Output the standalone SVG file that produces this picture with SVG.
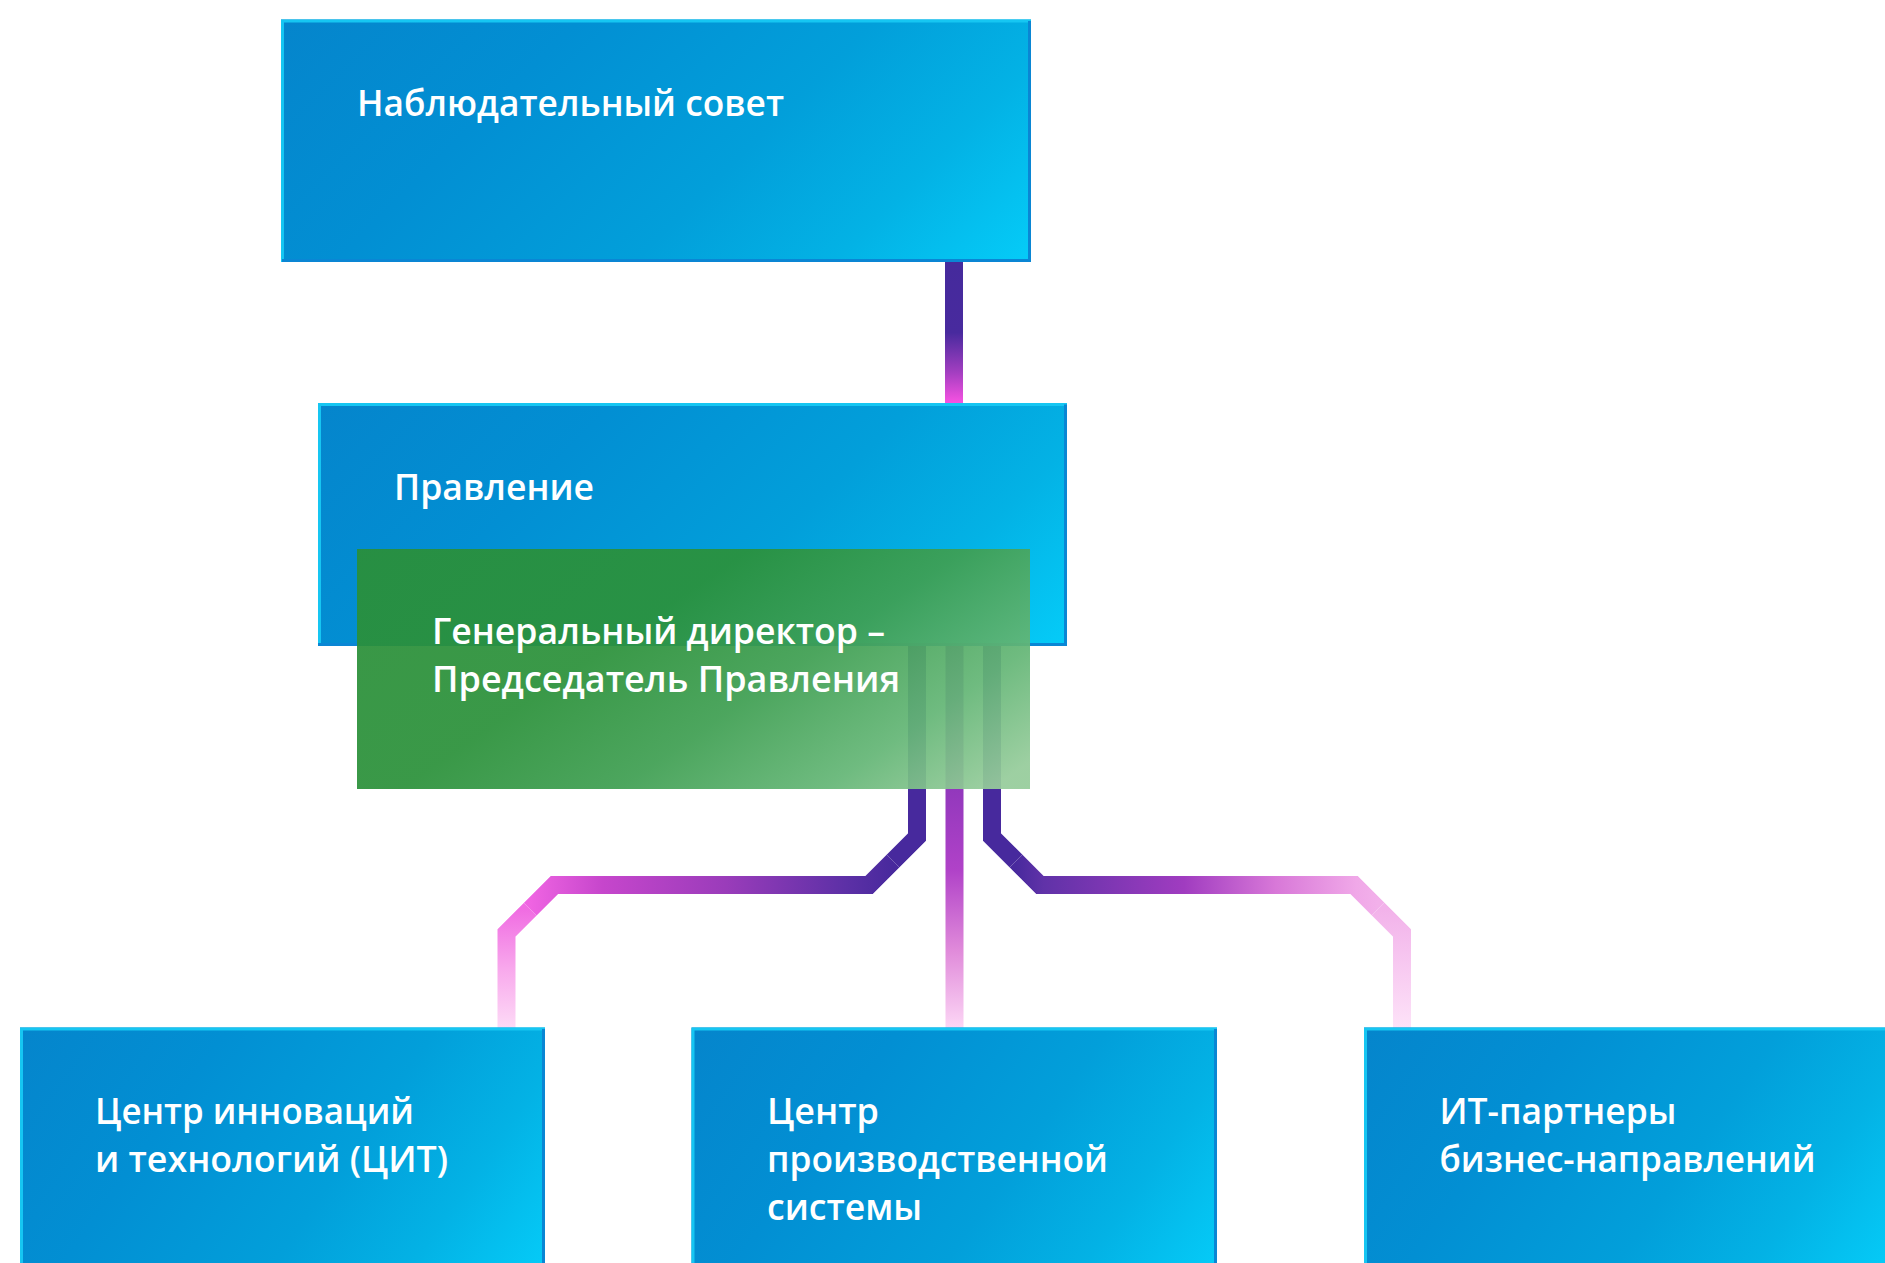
<svg xmlns="http://www.w3.org/2000/svg" width="1885" height="1263" viewBox="0 0 1885 1263">
  <style>
    .box { fill: url(#blueGrad); }
    .edgeLight { fill: none; stroke: #16c6f2; stroke-width: 3; }
    .edgeDark { fill: none; stroke: #0a86d4; stroke-width: 3; }
    .t { fill: #ffffff; font-family: "Open Sans", "Noto Sans", "DejaVu Sans", sans-serif; font-size: 36px; font-weight: 600; }
    .ln { fill: none; stroke-width: 18; stroke-linejoin: miter; stroke-miterlimit: 10; }
  </style>
  <defs>
    <linearGradient id="blueGrad" x1="0" y1="0" x2="1.2" y2="0.39">
      <stop offset="0" stop-color="#0585cc"/>
      <stop offset="0.3" stop-color="#028fd3"/>
      <stop offset="0.6" stop-color="#029fda"/>
      <stop offset="0.8" stop-color="#03b2e5"/>
      <stop offset="1" stop-color="#05ccf8"/>
    </linearGradient>
    <linearGradient id="greenGrad" x1="0" y1="0" x2="1.15" y2="0.6">
      <stop offset="0" stop-color="#2a8f38"/>
      <stop offset="0.4" stop-color="#2b913a"/>
      <stop offset="0.62" stop-color="#3f9f52"/>
      <stop offset="0.83" stop-color="#64b676"/>
      <stop offset="1" stop-color="#96cc9b"/>
    </linearGradient>
    <linearGradient id="gTop" gradientUnits="userSpaceOnUse" x1="0" y1="262" x2="0" y2="403">
      <stop offset="0" stop-color="#452a9c"/>
      <stop offset="0.5" stop-color="#482a9e"/>
      <stop offset="0.78" stop-color="#a23ec0"/>
      <stop offset="1" stop-color="#f752e2"/>
    </linearGradient>
    <linearGradient id="gMid" gradientUnits="userSpaceOnUse" x1="0" y1="646" x2="0" y2="1028">
      <stop offset="0" stop-color="#7a36b4"/>
      <stop offset="0.374" stop-color="#9238bc"/>
      <stop offset="0.586" stop-color="#b042c8"/>
      <stop offset="0.796" stop-color="#e08ada"/>
      <stop offset="1" stop-color="#fcd6f5"/>
    </linearGradient>
    <linearGradient id="gLB" gradientUnits="userSpaceOnUse" x1="893" y1="0" x2="530" y2="0">
      <stop offset="0" stop-color="#48299d"/>
      <stop offset="0.127" stop-color="#5c30a6"/>
      <stop offset="0.46" stop-color="#9a3cba"/>
      <stop offset="0.8" stop-color="#c646cc"/>
      <stop offset="1" stop-color="#ef64e2"/>
    </linearGradient>
    <linearGradient id="gLC" gradientUnits="userSpaceOnUse" x1="0" y1="909" x2="0" y2="1028">
      <stop offset="0" stop-color="#f06ce2"/>
      <stop offset="0.5" stop-color="#f8a8ec"/>
      <stop offset="1" stop-color="#fddaf6"/>
    </linearGradient>
    <linearGradient id="gRB" gradientUnits="userSpaceOnUse" x1="1016" y1="0" x2="1378" y2="0">
      <stop offset="0" stop-color="#48299d"/>
      <stop offset="0.075" stop-color="#6032a8"/>
      <stop offset="0.464" stop-color="#a03cc0"/>
      <stop offset="0.718" stop-color="#d878d8"/>
      <stop offset="0.94" stop-color="#f0a8e8"/>
      <stop offset="1" stop-color="#f2b0ea"/>
    </linearGradient>
    <linearGradient id="gRC" gradientUnits="userSpaceOnUse" x1="0" y1="909" x2="0" y2="1028">
      <stop offset="0" stop-color="#f2b2ea"/>
      <stop offset="1" stop-color="#fde2f8"/>
    </linearGradient>
    <clipPath id="cLA"><polygon points="500,468 1100,1068 1100,400 500,400"/></clipPath>
    <clipPath id="cLB"><polygon points="300,679 500,468 1100,1068 900,1279"/></clipPath>
    <clipPath id="cLC"><polygon points="300,679 800,1179 300,1179"/></clipPath>
    <clipPath id="cRA"><polygon points="877,1000 1477,400 877,400"/></clipPath>
    <clipPath id="cRB"><polygon points="877,1000 1477,400 1887,400 1087,1200"/></clipPath>
    <clipPath id="cRC"><polygon points="1100,1187 1700,587 1700,1187"/></clipPath>
  </defs>

  <rect x="0" y="0" width="1885" height="1263" fill="#ffffff"/>

  <g id="connectors">
    <path class="ln" stroke="url(#gTop)" d="M954,262 V403"/>
    <path class="ln" stroke="url(#gMid)" d="M954.5,646 V1028"/>
    <g id="left-branch">
      <path class="ln" stroke="#47299d" clip-path="url(#cLA)" d="M917,646 V837 L869,885 H554.5 L506.5,933 V1028"/>
      <path class="ln" stroke="url(#gLB)" clip-path="url(#cLB)" d="M917,646 V837 L869,885 H554.5 L506.5,933 V1028"/>
      <path class="ln" stroke="url(#gLC)" clip-path="url(#cLC)" d="M917,646 V837 L869,885 H554.5 L506.5,933 V1028"/>
    </g>
    <g id="right-branch">
      <path class="ln" stroke="#47299d" clip-path="url(#cRA)" d="M992,646 V837 L1040,885 H1354 L1402,933 V1028"/>
      <path class="ln" stroke="url(#gRB)" clip-path="url(#cRB)" d="M992,646 V837 L1040,885 H1354 L1402,933 V1028"/>
      <path class="ln" stroke="url(#gRC)" clip-path="url(#cRC)" d="M992,646 V837 L1040,885 H1354 L1402,933 V1028"/>
    </g>
  </g>

  <g id="node-supervisory">
    <rect class="box" x="281" y="19.5" width="750" height="242.5"/>
    <polyline class="edgeLight" points="282.5,262 282.5,21 1031,21"/>
    <polyline class="edgeDark" points="1029.5,21 1029.5,260.5 282,260.5"/>
    <text class="t" x="357" y="116" textLength="427" lengthAdjust="spacingAndGlyphs">Наблюдательный совет</text>
  </g>

  <g id="node-board">
    <rect class="box" x="318" y="403" width="749" height="243"/>
    <polyline class="edgeLight" points="319.5,646 319.5,404.5 1067,404.5"/>
    <polyline class="edgeDark" points="1065.5,404.5 1065.5,644.5 318,644.5"/>
    <text class="t" x="394" y="499.5" textLength="200" lengthAdjust="spacingAndGlyphs">Правление</text>
  </g>

  <g id="node-ceo">
    <rect x="357" y="549" width="673" height="240" fill="url(#greenGrad)" opacity="0.93"/>
    <text class="t" x="432" y="643.5" textLength="453" lengthAdjust="spacingAndGlyphs">Генеральный директор –</text>
    <text class="t" x="432" y="691.5" textLength="468" lengthAdjust="spacingAndGlyphs">Председатель Правления</text>
  </g>

  <g id="node-cit">
    <rect class="box" x="20" y="1027.5" width="525" height="245"/>
    <polyline class="edgeLight" points="21.5,1272 21.5,1029 545,1029"/>
    <polyline class="edgeDark" points="543.5,1029 543.5,1272"/>
    <text class="t" x="95" y="1123.5" textLength="319" lengthAdjust="spacingAndGlyphs">Центр инноваций</text>
    <text class="t" x="95" y="1171.5" textLength="353" lengthAdjust="spacingAndGlyphs">и технологий (ЦИТ)</text>
  </g>

  <g id="node-production">
    <rect class="box" x="691.5" y="1027.5" width="525.5" height="245"/>
    <polyline class="edgeLight" points="693,1272 693,1029 1217,1029"/>
    <polyline class="edgeDark" points="1215.5,1029 1215.5,1272"/>
    <text class="t" x="767" y="1123.5" textLength="112" lengthAdjust="spacingAndGlyphs">Центр</text>
    <text class="t" x="767" y="1171.5" textLength="341" lengthAdjust="spacingAndGlyphs">производственной</text>
    <text class="t" x="767" y="1220" textLength="155" lengthAdjust="spacingAndGlyphs">системы</text>
  </g>

  <g id="node-it-partners">
    <rect class="box" x="1364" y="1027.5" width="525" height="245"/>
    <polyline class="edgeLight" points="1365.5,1272 1365.5,1029 1889,1029"/>
    <text class="t" x="1439.5" y="1123.5" textLength="237" lengthAdjust="spacingAndGlyphs">ИТ-партнеры</text>
    <text class="t" x="1439.5" y="1171.5" textLength="376" lengthAdjust="spacingAndGlyphs">бизнес-направлений</text>
  </g>
</svg>
